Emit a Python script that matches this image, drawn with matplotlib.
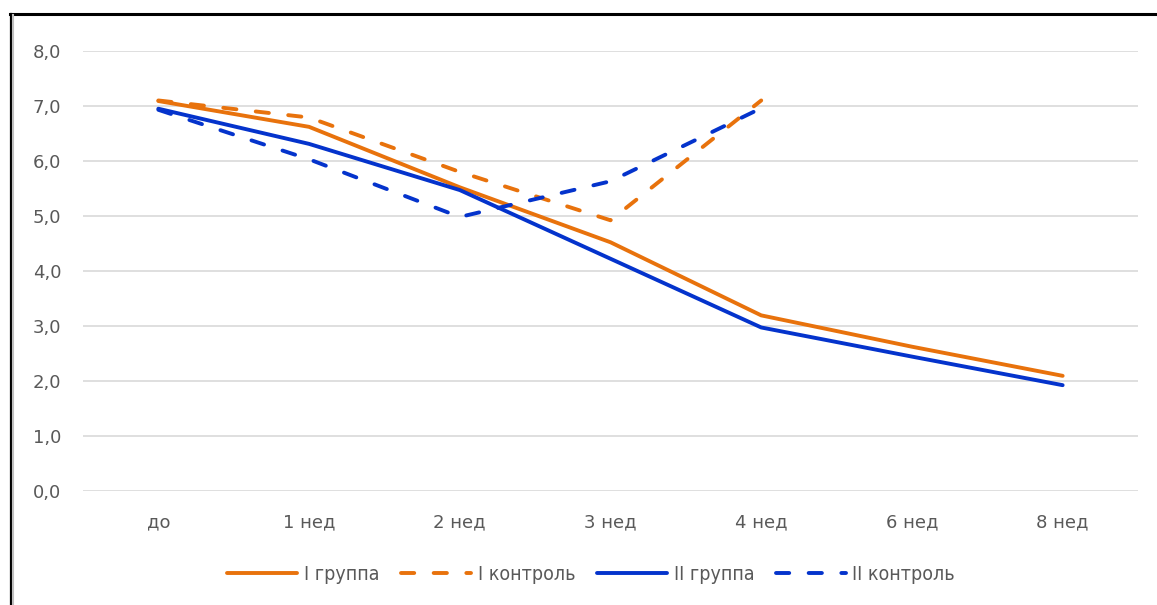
import numpy as np
import matplotlib.pyplot as plt
from matplotlib.lines import Line2D

weeks = ["до", "1 нед", "2 нед", "3 нед", "4 нед", "6 нед", "8 нед"]
grp1 = [7.09, 6.62, 5.52, 4.52, 3.19, 2.62, 2.09]
ctrl1 = [7.10, 6.79, 5.80, 4.92, 7.10]
grp2 = [6.95, 6.31, 5.47, 4.22, 2.97, 2.44, 1.92]
ctrl2 = [6.93, 6.03, 4.98, 5.63, 6.96]
labels = ["I группа", "I контроль", "II группа", "II контроль"]

orange = "#E8720C"
blue = "#0433CC"
dash = (0, (3.4, 5.0))

fig = plt.figure(figsize=(11.57, 6.05), dpi=100)
ax = fig.add_axes([83/1157, 1 - 490.7/605, (1138-83)/1157, (490.7-51)/605])

x = np.arange(len(weeks))
lw = 2.8
ax.plot(x, grp1, color=orange, lw=lw, solid_capstyle="round", label=labels[0])
ax.plot(x[:len(ctrl1)], ctrl1, color=orange, lw=lw, linestyle=dash,
        dash_capstyle="round", label=labels[1])
ax.plot(x, grp2, color=blue, lw=lw, solid_capstyle="round", label=labels[2])
ax.plot(x[:len(ctrl2)], ctrl2, color=blue, lw=lw, linestyle=dash,
        dash_capstyle="round", label=labels[3])

ax.set_xlim(-0.5, len(weeks) - 0.5)
ax.set_ylim(0, 8)
ax.set_yticks(np.arange(0, 9, 1))
ax.set_yticklabels([f"{v:.1f}".replace(".", ",") for v in range(9)])
ax.set_xticks(x)
ax.set_xticklabels(weeks)
ax.grid(axis="y", color="#D9D9D9", lw=1.2)
ax.set_axisbelow(True)
for s in ax.spines.values():
    s.set_visible(False)
ax.tick_params(length=0, labelsize=13, labelcolor="#595959")
ax.tick_params(axis="y", pad=15.5)
ax.tick_params(axis="x", pad=16)

leg = fig.legend(loc="center", bbox_to_anchor=(0.511, 0.05), ncol=4, frameon=False,
                 handlelength=3.6, handletextpad=0.35, columnspacing=1.1,
                 prop={"family": "DejaVu Sans", "size": 14, "stretch": "condensed"})
for t in leg.get_texts():
    t.set_color("#595959")

# outer frame
fig.add_artist(Line2D([10/1157, 1], [1 - 14/605, 1 - 14/605], color="black", lw=2.2))
fig.add_artist(Line2D([10.5/1157, 10.5/1157], [0, 1 - 14/605], color="black", lw=1.6))
fig.add_artist(Line2D([12.5/1157, 12.5/1157], [0, 1 - 15/605], color="#BFBFBF", lw=1.5))

fig.savefig("out.png", dpi=100)
